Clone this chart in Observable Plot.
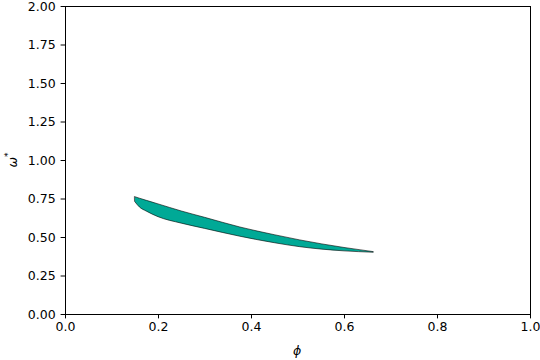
<!DOCTYPE html>
<html>
<head>
<meta charset="utf-8">
<script src="https://cdn.jsdelivr.net/npm/d3@7"></script>
<script src="https://cdn.jsdelivr.net/npm/@observablehq/plot@0.6"></script>
<style>
  html, body { margin: 0; padding: 0; background: white; }
  svg { display: block; }
</style>
</head>
<body>
<div id="chart"></div>
<script>
const phi = [0.15, 0.16, 0.175, 0.2, 0.25, 0.3, 0.376, 0.45, 0.505, 0.6, 0.663];
const omegaUpper = [0.762, 0.752, 0.738, 0.715, 0.669, 0.628, 0.565, 0.515, 0.481, 0.432, 0.405];
const omegaLower = [0.73, 0.695, 0.668, 0.632, 0.59, 0.556, 0.505, 0.463, 0.437, 0.41, 0.401];
const xTicks = [0, 0.2, 0.4, 0.6, 0.8, 1.0];
const yTicks = [0, 0.25, 0.5, 0.75, 1.0, 1.25, 1.5, 1.75, 2.0];

const data = phi.map((p, i) => ({phi: p, lo: omegaLower[i], hi: omegaUpper[i]}));

const chart = Plot.plot({
  width: 540,
  height: 360,
  marginLeft: 65,
  marginRight: 10,
  marginTop: 6,
  marginBottom: 46,
  style: {fontFamily: "DejaVu Sans", fontSize: "12.5px", background: "white", color: "black"},
  x: {domain: [0, 1]},
  y: {domain: [0, 2]},
  marks: [
    Plot.areaY(data, {x: "phi", y1: "lo", y2: "hi", fill: "#00a996", stroke: "black", strokeWidth: 0.6, curve: "monotone-x"}),
    Plot.frame({stroke: "black", strokeWidth: 1}),
    Plot.axisX({ticks: xTicks, tickFormat: d3.format(".1f"), tickSize: 4.4, tickPadding: 3.5, label: null, fontSize: 12.5, strokeWidth: 1}),
    Plot.axisY({ticks: yTicks, tickFormat: d3.format(".2f"), tickSize: 4.4, tickPadding: 5.5, label: null, fontSize: 12.5, strokeWidth: 1})
  ]
});

const svg = d3.select(chart);
svg.append("text")
  .attr("x", 297).attr("y", 355)
  .attr("text-anchor", "middle")
  .attr("font-family", "DejaVu Sans").attr("font-size", 12.5).attr("font-style", "italic")
  .attr("fill", "black")
  .text("ϕ");
const yl = svg.append("text")
  .attr("transform", "translate(17,160) rotate(-90)")
  .attr("text-anchor", "middle")
  .attr("font-family", "DejaVu Sans").attr("font-size", 12.5)
  .attr("fill", "black");
yl.append("tspan").attr("font-style", "italic").text("ω");
yl.append("tspan").attr("font-size", 9).attr("dy", -6).text("*");

document.getElementById("chart").appendChild(chart);
</script>
</body>
</html>
